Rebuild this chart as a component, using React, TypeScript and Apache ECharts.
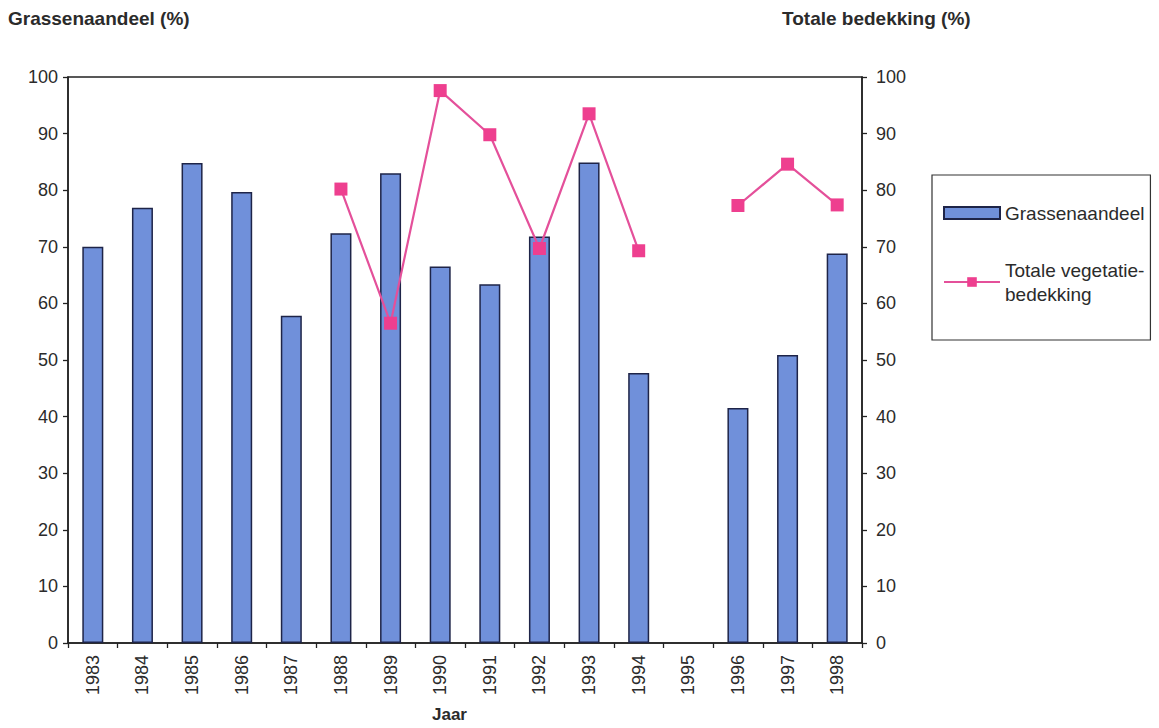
import React, { useEffect, useRef } from "react";
import * as echarts from "echarts";

const years = ["1983","1984","1985","1986","1987","1988","1989","1990","1991","1992","1993","1994","1995","1996","1997","1998"];
const grassenaandeel: (number | null)[] = [70.0, 76.9, 84.8, 79.7, 57.8, 72.4, 83.0, 66.5, 63.4, 71.8, 84.9, 47.7, null, 41.5, 50.9, 68.8];
const totaleBedekking: (number | null)[] = [null, null, null, null, null, 80.2, 56.5, 97.6, 89.8, 69.7, 93.5, 69.3, null, 77.3, 84.6, 77.4];
const yTicksMin = 0;
const yTicksMax = 100;
const yInterval = 10;

const FONT = "'Liberation Sans', Arial, Helvetica, sans-serif";
const TXT = "#2b2b2b";

export default function App() {
  const ref = useRef<HTMLDivElement>(null);
  useEffect(() => {
    if (!ref.current) return;
    const chart = echarts.init(ref.current, undefined, { renderer: "svg" });
    const axisLine = { show: true, lineStyle: { color: "#222", width: 1.5 } };
    chart.setOption({
      animation: false,
      backgroundColor: "#ffffff",
      textStyle: { fontFamily: FONT },
      grid: {
        left: 68, right: 297, top: 77, bottom: 85,
        show: true, borderColor: "#222", borderWidth: 1.5, backgroundColor: "transparent",
      },
      graphic: [
        { type: "text", left: 8, top: 9, style: { text: "Grassenaandeel (%)", font: `bold 19px ${FONT}`, fill: TXT } },
        { type: "text", left: 782, top: 9, style: { text: "Totale bedekking (%)", font: `bold 19px ${FONT}`, fill: TXT } },
        { type: "text", left: 432, top: 706, style: { text: "Jaar", font: `bold 17px ${FONT}`, fill: TXT } },
      ],
      legend: {
        orient: "vertical",
        left: 932, top: 175,
        padding: [26, 6, 22, 11],
        itemGap: 21,
        itemWidth: 56, itemHeight: 12,
        borderColor: "#333", borderWidth: 1.2,
        backgroundColor: "#fff",
        textStyle: { fontFamily: FONT, fontSize: 19, color: TXT, lineHeight: 24 },
        data: [
          { name: "Grassenaandeel", icon: "rect" },
          { name: "Totale vegetatie-\nbedekking", textStyle: { padding: [24, 0, 0, 0], lineHeight: 24, fontSize: 19, color: TXT } },
        ],
      },
      xAxis: {
        type: "category",
        data: years,
        boundaryGap: true,
        axisLine,
        axisTick: { show: true, alignWithLabel: false, length: 5, lineStyle: { color: "#222", width: 1.3 } },
        axisLabel: { rotate: 90, margin: 12, fontSize: 18, color: TXT, fontFamily: FONT, interval: 0 },
        splitLine: { show: false },
      },
      yAxis: [
        {
          type: "value", position: "left", min: yTicksMin, max: yTicksMax, interval: yInterval,
          axisLine, axisTick: { show: true, length: 5, lineStyle: { color: "#222", width: 1.3 } },
          axisLabel: { fontSize: 18, color: TXT, margin: 10, fontFamily: FONT },
          splitLine: { show: false },
        },
        {
          type: "value", position: "right", min: yTicksMin, max: yTicksMax, interval: yInterval,
          axisLine, axisTick: { show: true, length: 5, lineStyle: { color: "#222", width: 1.3 } },
          axisLabel: { fontSize: 18, color: TXT, margin: 14, fontFamily: FONT },
          splitLine: { show: false },
        },
      ],
      series: [
        {
          name: "Grassenaandeel",
          type: "bar",
          yAxisIndex: 0,
          data: grassenaandeel,
          barWidth: 21,
          itemStyle: { color: "#7090da", borderColor: "#1e2448", borderWidth: 1.5 },
        },
        {
          name: "Totale vegetatie-\nbedekking",
          type: "line",
          yAxisIndex: 1,
          data: totaleBedekking,
          connectNulls: false,
          symbol: "rect",
          symbolSize: 13,
          lineStyle: { color: "#e4509a", width: 2.2 },
          itemStyle: { color: "#ee3f8f" },
        },
      ],
    });
    return () => chart.dispose();
  }, []);
  return <div ref={ref} style={{ position: "fixed", left: 0, top: 0, width: 1159, height: 728 }} />;
}
